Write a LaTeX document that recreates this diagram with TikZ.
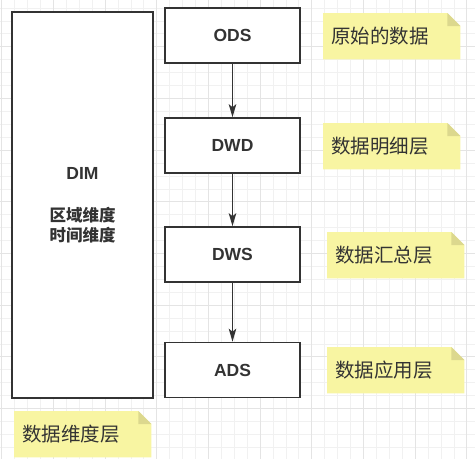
\documentclass[tikz,border=0pt]{standalone}
\usepackage{fontspec}
\setmainfont{Liberation Sans}
\newfontfamily\cjk{Noto Sans CJK SC}
\usetikzlibrary{arrows.meta}
\pgfdeclarelayer{bg}
\pgfsetlayers{bg,main}
\definecolor{txt}{HTML}{333333}
\definecolor{edgecol}{HTML}{333333}
\definecolor{notefill}{HTML}{F8F5A2}
\definecolor{notefold}{HTML}{DCD88E}
\definecolor{gridminor}{HTML}{F1F1F1}
\definecolor{gridmajor}{HTML}{E4E4E4}
\tikzset{
  layerbox/.style={draw=edgecol, line width=1.6pt, fill=white, text=txt, font=\bfseries\fontsize{17.5}{20}\selectfont,
    minimum width=135pt, minimum height=55pt, inner sep=0pt},
  dimbox/.style={draw=edgecol, line width=1.6pt, fill=white, text=txt, align=center,
    font=\cjk\bfseries\fontsize{16.5}{20}\selectfont,
    minimum width=141pt, minimum height=386pt, inner sep=0pt},
  notebox/.style={text=txt, font=\cjk\fontsize{19.5}{22}\selectfont, minimum height=46pt,
    text width=121pt, align=left, inner xsep=8pt, inner ysep=0pt, anchor=north west},
  flow/.style={draw=edgecol, line width=1.4pt, -{Stealth[length=13pt,width=7.5pt,inset=3pt]}}
}
\newcommand{\notebg}[1]{%
  \fill[notefill] (#1.south west) -- (#1.north west) -- ([xshift=-13pt]#1.north east)
    -- ([yshift=-13pt]#1.north east) -- (#1.south east) -- cycle;
  \fill[notefold] ([xshift=-13pt]#1.north east) -- ([xshift=-13pt,yshift=-13pt]#1.north east)
    -- ([yshift=-13pt]#1.north east) -- cycle;}
\begin{document}
\begin{tikzpicture}[x=1pt,y=-1pt]
\useasboundingbox (0,0) rectangle (475,459);
\begin{pgfonlayer}{bg}
  \fill[white] (0,0) rectangle (475,459);
  \foreach \i in {0,...,37} {
    \draw[gridminor, line width=0.6pt] ({1.6+12.92*\i},0) -- ({1.6+12.92*\i},459);
  }
  \foreach \i in {0,...,36} {
    \draw[gridminor, line width=0.6pt] (0,{-5+12.92*\i}) -- (475,{-5+12.92*\i});
  }
  \foreach \i in {0,...,9} {
    \draw[gridmajor, line width=0.7pt] ({1.6+51.68*\i},0) -- ({1.6+51.68*\i},459);
    \draw[gridmajor, line width=0.7pt] (0,{-5+51.68*\i}) -- (475,{-5+51.68*\i});
  }
\end{pgfonlayer}

\node[dimbox] (dim) at (82.5,205) {{\fontspec{Liberation Sans}\bfseries\fontsize{17.5}{20}\selectfont DIM}\\[22pt]
  区域维度\\时间维度};

\node[layerbox] (ods) at (232.5,35.5) {ODS};
\node[layerbox] (dwd) at (232.5,145.5) {DWD};
\node[layerbox] (dws) at (232.5,254.5) {DWS};
\node[layerbox] (ads) at (232.5,370) {ADS};

\draw[flow] (ods) -- (dwd);
\draw[flow] (dwd) -- (dws);
\draw[flow] (dws) -- (ads);

\node[notebox] (n1) at (323,13) {原始的数据};
\node[notebox] (n2) at (323,123) {数据明细层};
\node[notebox] (n3) at (327,232) {数据汇总层};
\node[notebox] (n4) at (327,347) {数据应用层};
\node[notebox] (n5) at (14,411) {数据维度层};
\begin{pgfonlayer}{bg}
  \notebg{n1}\notebg{n2}\notebg{n3}\notebg{n4}\notebg{n5}
\end{pgfonlayer}
\end{tikzpicture}
\end{document}
